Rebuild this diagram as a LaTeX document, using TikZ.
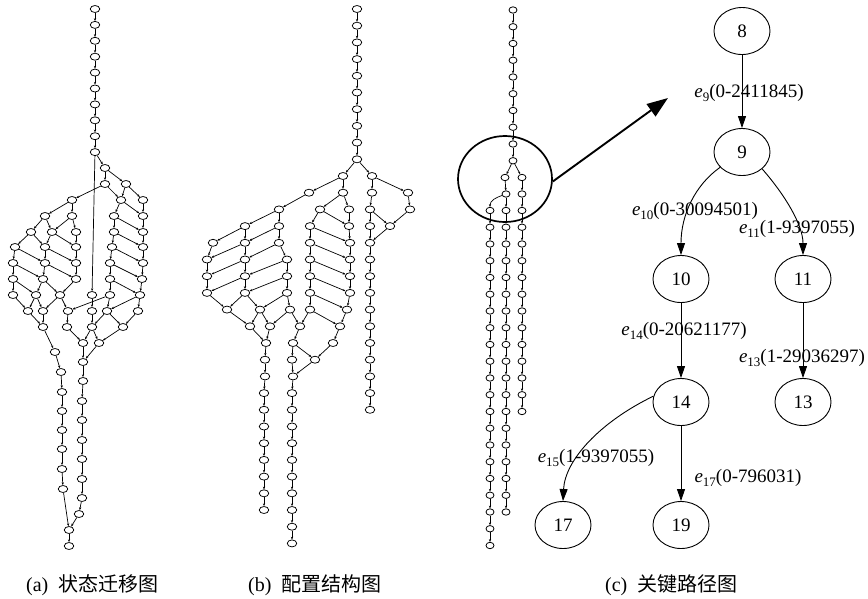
\documentclass[tikz,border=0pt]{standalone}
\usepackage{fontspec}
\setmainfont{Liberation Serif}
\newfontfamily\cjk{Noto Sans CJK SC}
\usetikzlibrary{arrows.meta,shapes.geometric}
\newcommand\elab[2]{\textit{e}\raisebox{-3.5pt}{\fontsize{13}{13}\selectfont #1}(#2)}
\begin{document}
\begin{tikzpicture}[x=1pt,y=-1pt,
  sn/.style={ellipse,draw,line width=0.75pt,minimum width=9.5pt,minimum height=7pt,inner sep=0pt},
  snc/.style={sn,minimum width=8pt,minimum height=6.4pt},
  se/.style={line width=0.7pt,-{Stealth[length=2.8pt,width=2.2pt]}},
  bn/.style={ellipse,draw,line width=0.9pt,minimum width=56pt,minimum height=47pt,inner sep=0pt,font=\fontsize{19}{19}\selectfont},
  be/.style={line width=0.9pt,-{Triangle[length=12pt,width=8pt]}},
  lab/.style={font=\fontsize{19}{19}\selectfont,inner sep=0pt},
  captxt/.style={font=\fontsize{20}{20}\selectfont,inner sep=0pt,anchor=west}]
\useasboundingbox (0,0) rectangle (868,598);
\fill[white] (0,0) rectangle (868,598);

% ---------------- (a) state transition graph ----------------
\foreach \kk in {0,...,9} \node[sn] (a\kk) at (95,{9+15.9*\kk}) {};
\foreach \n/\x/\y in {a10/105/168, a11a/105/184, a11b/126/184,
  a12a/72/200, a12b/121/200, a12c/143/200,
  a13a/45/216, a13b/72/216, a13c/114/216, a13d/143/216,
  a14a/31/232, a14b/52/232, a14c/76/232, a14d/114/232, a14e/143/232,
  a15a/15/247, a15b/45/247, a15c/76/247, a15d/112/247, a15e/143/247,
  a16a/13/263, a16b/45/263, a16c/76/263, a16d/110/263, a16e/143/263,
  a17a/13/279, a17b/43/279, a17c/76/279, a17d/110/279, a17e/142/279,
  a18a/13/295, a18b/36/295, a18c/60/295, a18d/92/295, a18e/110/295, a18f/140/295,
  a19a/28/311, a19b/43/311, a19c/68/311, a19d/92/311, a19e/107/311, a19f/138/311,
  a20a/43/327, a20b/67/327, a20c/92/327, a20d/123/327,
  a21a/83/343, a21b/99/343,
  l0/55/352, l1/61/372, l2/62/392, l3/62/411, l4/62/430, l5/62/449, l6/62/469, l7/63/489,
  r0/83/362, r1/83/381, r2/82/401, r3/82/420, r4/82/440, r5/82/459, r6/82/479, r7/82/498, r8/79/514,
  e0/69/530, e1/69/546}
  \node[sn] (\n) at (\x,\y) {};
\foreach \kk [remember=\kk as \lk (initially 0)] in {1,...,9} \draw[se] (a\lk) -- (a\kk);
\foreach \kk [remember=\kk as \lk (initially 0)] in {1,...,7} \draw[se] (l\lk) -- (l\kk);
\foreach \kk [remember=\kk as \lk (initially 0)] in {1,...,8} \draw[se] (r\lk) -- (r\kk);
\foreach \kk [evaluate=\kk as \mm using int(\kk+1)] in {15,16}{
  \draw[se] (a\kk a) -- (a\mm a); \draw[se] (a\kk a) -- (a\mm b);
  \draw[se] (a\kk b) -- (a\mm b); \draw[se] (a\kk b) -- (a\mm c);
  \draw[se] (a\kk c) -- (a\mm c);
  \draw[se] (a\kk d) -- (a\mm d); \draw[se] (a\kk d) -- (a\mm e);
  \draw[se] (a\kk e) -- (a\mm e);}
\foreach \s/\t in {a9/a10, a9/a18d, a10/a11a, a10/a11b,
  a11a/a12a, a11a/a12b, a11b/a12b, a11b/a12c,
  a12a/a13a, a12a/a13b, a12b/a13c, a12b/a13d, a12c/a13d,
  a13a/a14a, a13a/a14b, a13b/a14b, a13b/a14c, a13c/a14d, a13c/a14e, a13d/a14e,
  a14a/a15a, a14a/a15b, a14b/a15b, a14b/a15c, a14c/a15c, a14d/a15d, a14d/a15e, a14e/a15e,
  a17a/a18a, a17a/a18b, a17b/a18b, a17b/a18c, a17c/a18c, a17d/a18e, a17d/a18f, a17e/a18f,
  a18a/a19a, a18b/a19a, a18b/a19b, a18c/a19b, a18c/a19c, a18d/a19d, a18e/a19e, a18e/a19c,
  a18f/a19e, a18f/a19f,
  a19a/a20a, a19b/a20a, a19c/a20b, a19d/a20c, a19e/a20c, a19e/a20d, a19f/a20d,
  a20b/a21a, a20c/a21a, a20c/a21b, a20d/a21b,
  a20a/l0, a21a/r0, a21b/r0, l7/e0, r8/e0, e0/e1}
  \draw[se] (\s) -- (\t);

% ---------------- (b) configuration structure graph ----------------
\foreach \kk in {0,...,9} \node[sn] (b\kk) at (357,{9+16.7*\kk}) {};
\foreach \n/\x/\kk in {b10a/343/10, b10b/372/10,
  b11a/309/11, b11b/343/11, b11c/372/11, b11d/408/11,
  b12a/279/12, b12b/320/12, b12c/349/12, b12d/370/12, b12e/410/12,
  b13a/245/13, b13b/279/13, b13c/310/13, b13d/349/13, b13e/370/13, b13f/390/13,
  b14a/213/14, b14b/245/14, b14c/279/14, b14d/310/14, b14e/350/14, b14f/370/14,
  b15a/207/15, b15b/245/15, b15c/287/15, b15d/310/15, b15e/350/15, b15f/370/15,
  b16a/207/16, b16b/245/16, b16c/287/16, b16d/310/16, b16e/350/16, b16f/370/16,
  b17a/207/17, b17b/245/17, b17c/287/17, b17d/310/17, b17e/350/17, b17f/370/17,
  b18a/227/18, b18b/260/18, b18c/290/18, b18d/310/18, b18e/347/18, b18f/370/18,
  b19a/250/19, b19b/270/19, b19c/300/19, b19d/340/19, b19e/370/19,
  b20a/266/20, b20b/293/20, b20c/333/20, b20d/370/20,
  b21a/265/21, b21b/292/21, b21c/315/21, b21d/370/21,
  b22a/265/22, b22b/293/22, b22c/370/22}
  \node[sn] (\n) at (\x,{9+16.7*\kk}) {};
\foreach \kk in {23,...,30} \node[sn] (ba\kk) at (264,{9+16.7*\kk}) {};
\foreach \kk in {23,...,32} \node[sn] (bb\kk) at (292,{9+16.7*\kk}) {};
\foreach \kk in {23,24} \node[sn] (bc\kk) at (370,{9+16.7*\kk}) {};
\foreach \kk [remember=\kk as \lk (initially 0)] in {1,...,9} \draw[se] (b\lk) -- (b\kk);
\foreach \kk [remember=\kk as \lk (initially 23)] in {24,...,30} \draw[se] (ba\lk) -- (ba\kk);
\foreach \kk [remember=\kk as \lk (initially 23)] in {24,...,32} \draw[se] (bb\lk) -- (bb\kk);
\foreach \kk [evaluate=\kk as \mm using int(\kk+1)] in {14,15,16}{
  \draw[se] (b\kk a) -- (b\mm a); \draw[se] (b\kk b) -- (b\mm b);
  \draw[se] (b\kk c) -- (b\mm c); \draw[se] (b\kk b) -- (b\mm a);
  \draw[se] (b\kk c) -- (b\mm b);
  \draw[se] (b\kk d) -- (b\mm d); \draw[se] (b\kk e) -- (b\mm e);
  \draw[se] (b\kk d) -- (b\mm e); \draw[se] (b\kk f) -- (b\mm f);}
\foreach \s/\t in {b9/b10a, b9/b10b,
  b10a/b11a, b10a/b11b, b10b/b11c, b10b/b11d,
  b11a/b12a, b11b/b12b, b11b/b12c, b11c/b12d, b11d/b12e,
  b12a/b13a, b12a/b13b, b12b/b13c, b12b/b13d, b12c/b13d, b12d/b13e, b12d/b13f, b12e/b13f,
  b13a/b14a, b13a/b14b, b13b/b14b, b13b/b14c, b13c/b14d, b13c/b14e, b13d/b14e, b13e/b14f, b13f/b14f,
  b17a/b18a, b17b/b18a, b17b/b18b, b17c/b18b, b17c/b18c, b17d/b18d, b17d/b18e, b17e/b18e, b17f/b18f,
  b18a/b19a, b18b/b19a, b18b/b19b, b18c/b19b, b18c/b19c, b18d/b19c, b18d/b19d, b18e/b19d, b18f/b19e,
  b19a/b20a, b19b/b20a, b19c/b20b, b19d/b20c, b19e/b20d,
  b20a/b21a, b20b/b21b, b20b/b21c, b20c/b21c, b20d/b21d,
  b21a/b22a, b21b/b22b, b21c/b22b, b21d/b22c,
  b22a/ba23, b22b/bb23, b22c/bc23, bc23/bc24}
  \draw[se] (\s) -- (\t);

% ---------------- (c) left: key path within full graph ----------------
\foreach \kk in {0,...,9} \node[snc] (c\kk) at (513,{10+16.75*\kk}) {};
\node[snc] (ca) at (505,177.5) {};
\node[snc] (cb) at (522,177.5) {};
\node[snc] (cc) at (506,194) {};
\node[snc] (cd) at (522,194) {};
\foreach \kk in {0,...,20} \node[snc] (p\kk) at (490,{210.5+16.75*\kk}) {};
\foreach \kk in {0,...,18} \node[snc] (q\kk) at (506,{210.5+16.75*\kk}) {};
\foreach \kk in {0,...,12} \node[snc] (r\kk) at (522,{210.5+16.75*\kk}) {};
\foreach \kk [remember=\kk as \lk (initially 0)] in {1,...,9} \draw[se] (c\lk) -- (c\kk);
\foreach \kk [remember=\kk as \lk (initially 0)] in {1,...,20} \draw[se] (p\lk) -- (p\kk);
\foreach \kk [remember=\kk as \lk (initially 0)] in {1,...,18} \draw[se] (q\lk) -- (q\kk);
\foreach \kk [remember=\kk as \lk (initially 0)] in {1,...,12} \draw[se] (r\lk) -- (r\kk);
\draw[se] (c9) -- (ca);
\draw[se] (c9) -- (cb);
\draw[se] (ca) -- (cc);
\draw[se] (cb) -- (cd);
\draw[se] (cc) to[out=200,in=90] (p0);
\draw[se] (cc) -- (q0);
\draw[se] (cd) -- (r0);

\node[draw,ellipse,line width=1.7pt,minimum width=94pt,minimum height=86pt,inner sep=0pt] (zoomell) at (505,179) {};
\coordinate (ztip) at (668,98);
\draw[line width=1.9pt,-{Triangle[length=21pt,width=15pt]}] (zoomell.-3) -- (ztip);

% ---------------- (c) right: key path graph ----------------
\node[bn] (n8) at (742,31) {8};
\node[bn] (n9) at (742,152) {9};
\node[bn] (n10) at (681,279) {10};
\node[bn] (n11) at (803,279) {11};
\node[bn] (n14) at (681,402) {14};
\node[bn] (n13) at (803,402) {13};
\node[bn] (n19) at (681,525) {19};
\node[bn] (n17) at (563,525) {17};
\draw[be] (n8) -- (n9);
\draw[be] (n9.215) .. controls (695,185) and (681,215) .. (n10.north);
\draw[be] (n9.-40) .. controls (785,195) and (803,225) .. (n11.north);
\draw[be] (n10) -- (n14);
\draw[be] (n11) -- (n13);
\draw[be] (n14) -- (n19);
\draw[be] (n14.168) .. controls (600,422) and (565,460) .. (n17.north);
\node[lab] (l9) at (749,93) {\elab{9}{0-2411845}};
\node[lab] (l10) at (695,211) {\elab{10}{0-30094501}};
\node[lab] (l11) at (797,229) {\elab{11}{1-9397055}};
\node[lab] (l14) at (684,331) {\elab{14}{0-20621177}};
\node[lab] (l13) at (802,358) {\elab{13}{1-29036297}};
\node[lab] (l17) at (748,478) {\elab{17}{0-796031}};
\node[lab] (l15) at (596,458) {\elab{15}{1-9397055}};

% ---------------- captions ----------------
\node[captxt] (capa) at (26,585) {(a)\hspace{0.5em}{\cjk 状态迁移图}};
\node[captxt] (capb) at (248,585) {(b)\hspace{0.5em}{\cjk 配置结构图}};
\node[captxt] (capc) at (605,585) {(c)\hspace{0.5em}{\cjk 关键路径图}};
\end{tikzpicture}
\end{document}
